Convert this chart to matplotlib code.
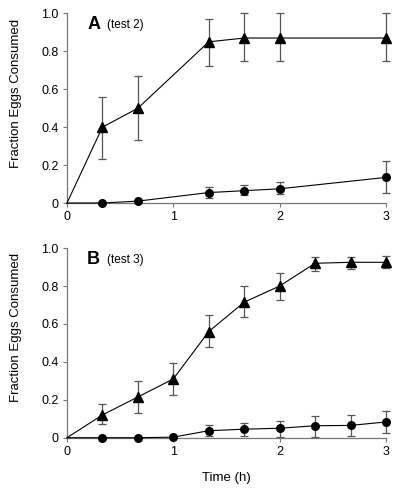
import numpy as np
import matplotlib.pyplot as plt

plt.rcParams['font.family'] = ['Liberation Sans', 'DejaVu Sans']

# panel A (test 2)
xA_tri = [0, 0.333, 0.667, 1.333, 1.667, 2, 3]
yA_tri = [0, 0.40, 0.50, 0.85, 0.87, 0.87, 0.87]
loA_tri = [0, 0.23, 0.33, 0.72, 0.75, 0.75, 0.75]
hiA_tri = [0, 0.56, 0.67, 0.97, 1.0, 1.0, 1.0]

xA_dot = [0, 0.333, 0.667, 1.333, 1.667, 2, 3]
yA_dot = [0, 0.0, 0.01, 0.055, 0.065, 0.075, 0.135]
loA_dot = [0, 0.0, 0.01, 0.025, 0.04, 0.045, 0.055]
hiA_dot = [0, 0.0, 0.01, 0.085, 0.095, 0.11, 0.22]

# panel B (test 3)
xB = [0, 0.333, 0.667, 1, 1.333, 1.667, 2, 2.333, 2.667, 3]
yB_tri = [0, 0.12, 0.215, 0.31, 0.56, 0.715, 0.80, 0.92, 0.925, 0.925]
loB_tri = [0, 0.07, 0.13, 0.225, 0.48, 0.635, 0.725, 0.88, 0.89, 0.895]
hiB_tri = [0, 0.18, 0.30, 0.395, 0.645, 0.80, 0.87, 0.955, 0.955, 0.96]

yB_dot = [0, 0.0, 0.0, 0.003, 0.037, 0.045, 0.05, 0.063, 0.065, 0.083]
loB_dot = [0, 0.0, 0.0, 0.003, 0.01, 0.01, 0.005, 0.005, 0.01, 0.025]
hiB_dot = [0, 0.0, 0.0, 0.003, 0.065, 0.08, 0.09, 0.115, 0.12, 0.14]


def series(ax, x, y, lo, hi, marker, ms):
    y = np.array(y); lo = np.array(lo); hi = np.array(hi)
    ax.errorbar(x[1:], y[1:], yerr=[y[1:] - lo[1:], hi[1:] - y[1:]], fmt='none',
                ecolor='#555555', elinewidth=0.9, capsize=3, capthick=0.9, zorder=2)
    ax.plot(x, y, 'k-', lw=0.8, zorder=3)
    ax.plot(x[1:], y[1:], marker, color='k', ms=ms, ls='none', zorder=4)


def style(ax, letter, sub):
    ax.set_xlim(0, 3)
    ax.set_ylim(0, 1)
    ax.set_xticks([0, 1, 2, 3])
    ax.set_yticks([0, 0.2, 0.4, 0.6, 0.8, 1.0])
    ax.set_yticklabels(['0', '0.2', '0.4', '0.6', '0.8', '1.0'])
    for s in ['top', 'right']:
        ax.spines[s].set_visible(False)
    for s in ['left', 'bottom']:
        ax.spines[s].set_color('#777777')
        ax.spines[s].set_linewidth(0.9)
    ax.tick_params(direction='out', length=3, width=0.8, color='#777777',
                   labelsize=9, pad=3)
    ax.set_ylabel('Fraction Eggs Consumed', fontsize=9.5)
    ax.yaxis.set_label_coords(-0.14, 0.58)
    ax.text(0.063, 0.985, letter, fontsize=13, fontweight='bold', va='top',
            transform=ax.transAxes)
    ax.text(0.125, 0.97, sub, fontsize=8.5, va='top', transform=ax.transAxes)


fig = plt.figure(figsize=(4, 4.9), dpi=100)
axA = fig.add_axes([0.1675, 0.5857, 0.7975, 0.387])
axB = fig.add_axes([0.1675, 0.1067, 0.7975, 0.387])

series(axA, xA_tri, yA_tri, loA_tri, hiA_tri, '^', 6.5)
series(axA, xA_dot, yA_dot, loA_dot, hiA_dot, 'o', 5.5)
style(axA, 'A', '(test 2)')

series(axB, xB, yB_tri, loB_tri, hiB_tri, '^', 6.5)
series(axB, xB, yB_dot, loB_dot, hiB_dot, 'o', 5.5)
style(axB, 'B', '(test 3)')
axB.set_xlabel('Time (h)', fontsize=9.5, labelpad=10)

for ax in (axA, axB):
    for a in ax.get_children():
        if hasattr(a, 'set_clip_on'):
            a.set_clip_on(False)

fig.savefig('out.png', dpi=100)
